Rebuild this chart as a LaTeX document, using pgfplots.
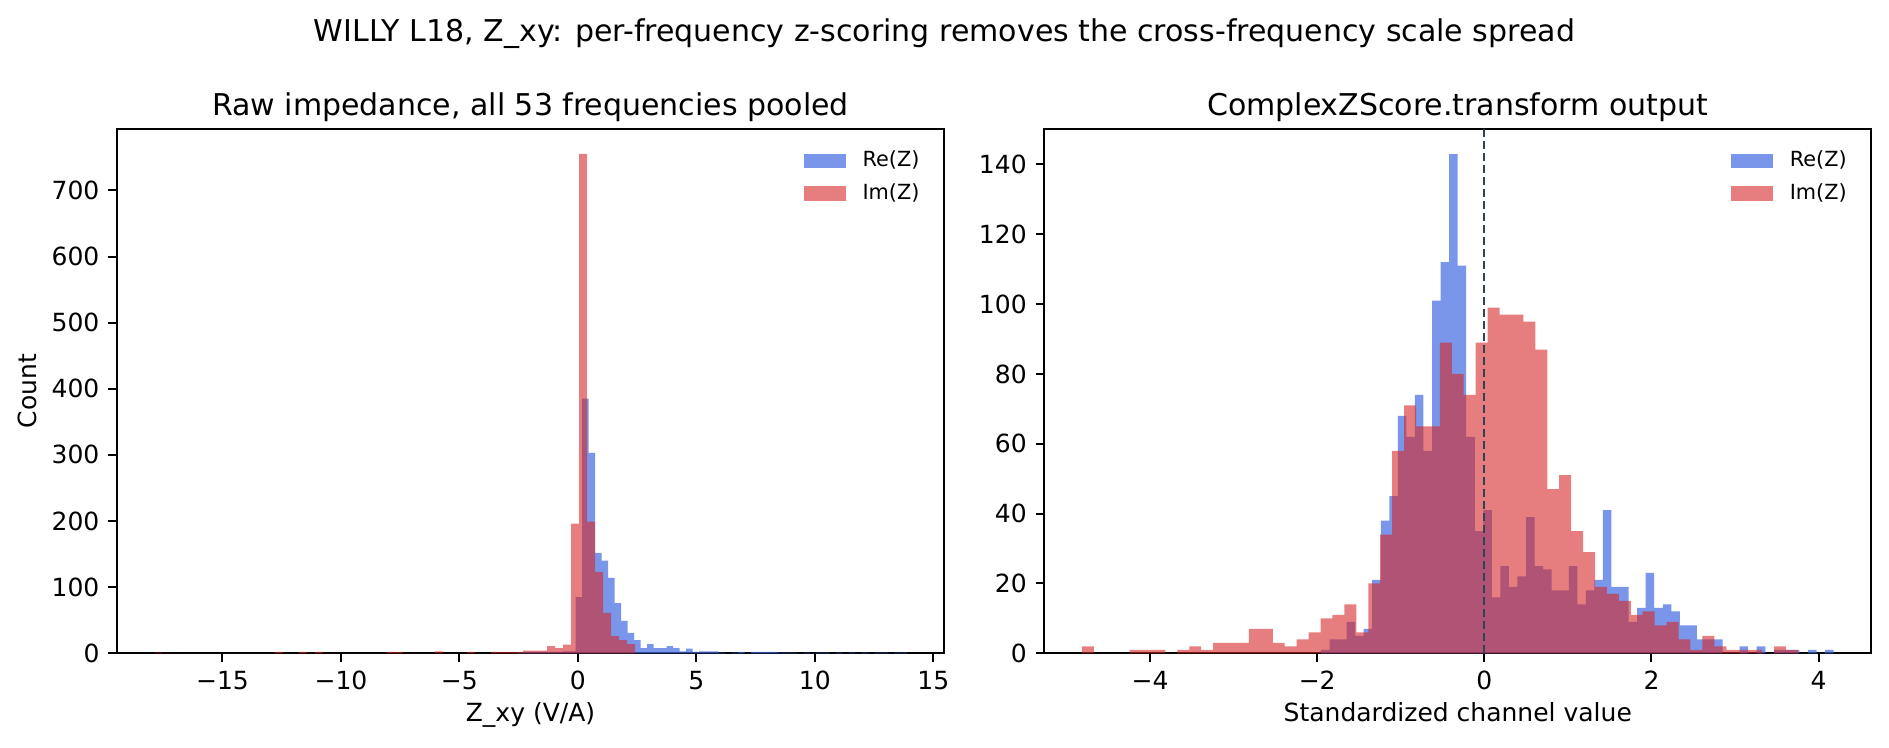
\documentclass[border=0pt]{standalone}
\usepackage{fontspec}
\setmainfont{DejaVu Sans}
\usepackage{pgfplots}
\usepackage{pgfplotstable}
\pgfplotsset{compat=1.18}
\definecolor{reblue}{RGB}{65,105,225}
\definecolor{imred}{RGB}{214,39,40}
\definecolor{vline}{RGB}{51,65,85}

% left panel: Re(Z), 60 bins from -2.567, width 0.2745 (last row = right edge)
\pgfplotstableread{
c
1
2
2
2
2
2
2
3
3
85
385
303
152
140
114
76
49
31
20
8
14
8
8
11
8
3
7
2
3
3
3
1
0
1
2
0
2
2
2
2
1
1
1
0
1
0
1
1
0
1
0
1
0
1
0
1
1
0
1
1
1
}\reLeft

% left panel: Im(Z), 60 bins from -17.86, width 0.338
\pgfplotstableread{
c
1
0
0
0
0
0
0
0
0
0
0
0
0
0
0
2
0
0
2
0
2
0
0
0
0
0
0
0
0
2
2
0
0
0
0
3
0
0
0
2
0
0
2
2
2
2
4
4
4
11
8
13
196
755
199
123
61
26
20
14
14
}\imLeft

% right panel: Re(Z), 60 bins from -1.955, width 0.10225
\pgfplotstableread{
c
1
4
4
9
5
7
21
38
45
68
62
74
58
101
112
143
111
62
35
41
16
25
19
22
39
25
24
18
18
25
14
18
21
41
19
19
9
13
23
13
14
12
8
8
4
4
4
0
0
2
0
2
0
1
1
1
0
1
0
1
1
}\reRight

% right panel: Im(Z), 60 bins from -4.816, width 0.1428
\pgfplotstableread{
c
2
0
0
0
1
1
1
0
1
2
1
3
3
3
7
7
3
2
4
6
10
11
14
6
20
34
58
71
65
65
89
80
74
89
99
97
97
95
87
47
51
35
29
19
17
15
11
12
8
9
4
1
5
2
1
1
1
0
2
1
1
}\imRight

\pgfplotsset{
  every axis title/.style={at={(axis description cs:0.5,1)}, anchor=base, yshift=5.6pt,
    font=\fontsize{12}{14}\selectfont},
  panel/.style={
    scale only axis, width=330.8pt, height=209.7pt,
    axis line style={line width=0.8pt},
    tick align=outside, tick pos=left, major tick length=3.5pt,
    every tick/.style={black, line width=0.8pt},
    ymin=0,
    /pgf/number format/assume math mode=true,
    ticklabel style={font=\fontsize{10}{12}\selectfont},
    xlabel style={font=\fontsize{10}{12}\selectfont, at={(axis description cs:0.5,0)}, anchor=base, yshift=-27.2pt},
    ylabel style={font=\fontsize{10}{12}\selectfont},
    legend style={draw=none, fill=none, at={(axis description cs:1,1)}, anchor=north east,
      xshift=-9.6pt, yshift=-8.6pt, inner sep=0pt, row sep=5pt,
      font=\fontsize{8.33}{10}\selectfont,
      nodes={inner sep=0pt, text height=6.3pt, text depth=1.7pt}},
    legend cell align=left,
    legend image code/.code={\fill[##1] (0pt,-2.9pt) rectangle (16.7pt,2.9pt); \path (23.4pt,0pt);},
  },
  histo/.style={const plot mark left, draw=none, fill=#1},
}

\begin{document}
\begin{tikzpicture}
\path[use as bounding box] (-46.8pt,-37.88pt) rectangle (708.8pt,261.32pt);

\begin{axis}[panel, at={(0pt,0pt)}, anchor=south west,
  xmin=-19.45, xmax=15.45, ymax=792.75,
  xtick={-15,-10,-5,0,5,10,15},
  xticklabels={−15,−10,−5,0,5,10,15},
  ytick={0,100,200,300,400,500,600,700},
  title={Raw impedance, all 53 frequencies pooled},
  xlabel={Z\_xy (V/A)},
  ylabel={Count},
  ylabel style={at={(axis description cs:0,0.5)}, anchor=center, yshift=36pt},
]
\addplot[histo=reblue, fill opacity=0.7] table[x expr={-2.567+0.2745*\coordindex}, y=c] {\reLeft} \closedcycle;
\addlegendentry{Re(Z)}
\addplot[histo=imred, fill opacity=0.6] table[x expr={-17.86+0.338*\coordindex}, y=c] {\imLeft} \closedcycle;
\addlegendentry{Im(Z)}
\end{axis}

\begin{axis}[panel, at={(370.9pt,0pt)}, anchor=south west,
  xmin=-5.266, xmax=4.63, ymax=150.15,
  xtick={-4,-2,0,2,4},
  xticklabels={−4,−2,0,2,4},
  ytick={0,20,40,60,80,100,120,140},
  title={ComplexZScore.transform output},
  xlabel={Standardized channel value},
]
\addplot[histo=reblue, fill opacity=0.7] table[x expr={-1.955+0.10225*\coordindex}, y=c] {\reRight} \closedcycle;
\addlegendentry{Re(Z)}
\addplot[histo=imred, fill opacity=0.6] table[x expr={-4.816+0.1428*\coordindex}, y=c] {\imRight} \closedcycle;
\addlegendentry{Im(Z)}
\addplot[vline, line width=0.85pt, dash pattern=on 3.2pt off 1.6pt, forget plot] coordinates {(0,0) (0,150.15)};
\end{axis}

\node[anchor=base, font=\fontsize{12}{14}\selectfont] at (331pt,244.64pt)
  {WILLY L18, Z\_xy: per-frequency z-scoring removes the cross-frequency scale spread};
\end{tikzpicture}
\end{document}
